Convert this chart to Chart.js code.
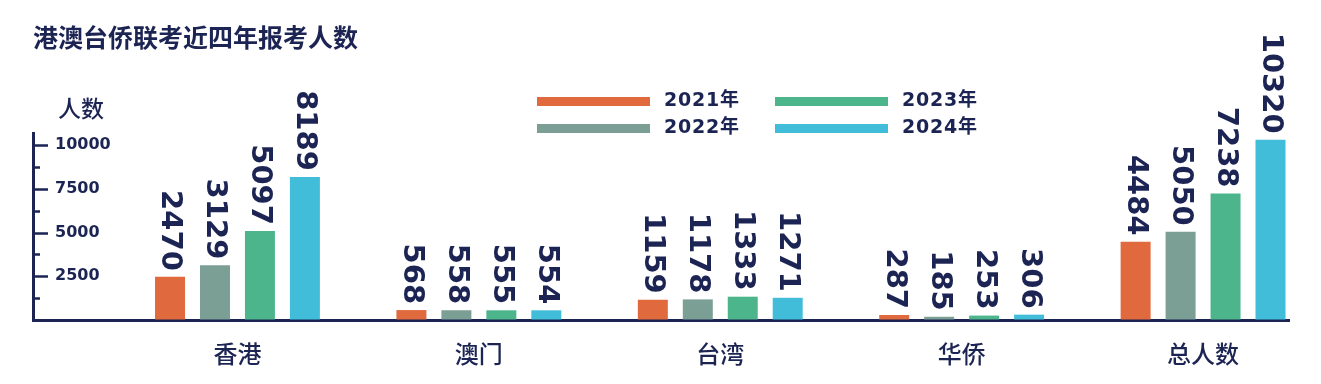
<!DOCTYPE html>
<html lang="zh">
<head>
<meta charset="utf-8">
<title>港澳台侨联考近四年报考人数</title>
<script src="https://cdn.jsdelivr.net/npm/chart.js@4.4.1/dist/chart.umd.min.js"></script>
<style>
  html, body { margin: 0; padding: 0; background: #fff; }
  #wrap { width: 1321px; height: 384px; }
</style>
</head>
<body>
<div id="wrap"><canvas id="chart"></canvas></div>
<script>
const categories = ['香港', '澳门', '台湾', '华侨', '总人数'];
const years = ['2021年', '2022年', '2023年', '2024年'];
const values2021 = [2470, 568, 1159, 287, 4484];
const values2022 = [3129, 558, 1178, 185, 5050];
const values2023 = [5097, 555, 1333, 253, 7238];
const values2024 = [8189, 554, 1271, 306, 10320];
const yTicks = [0, 2500, 5000, 7500, 10000];

const navy = '#1c2453';
const colors = ['#e0693d', '#7b9e95', '#4db58c', '#42bdd9'];
const cjk = '"Noto Sans CJK SC", sans-serif';

const series = [values2021, values2022, values2023, values2024];

// rotated value above each bar
const valueLabels = {
    id: 'valueLabels',
    afterDatasetsDraw(chart) {
        const ctx = chart.ctx;
        ctx.save();
        ctx.fillStyle = navy;
        ctx.font = 'bold 29px "DejaVu Sans"';
        ctx.textAlign = 'right';
        ctx.textBaseline = 'middle';
        chart.data.datasets.forEach((ds, i) => {
            chart.getDatasetMeta(i).data.forEach((bar, j) => {
                ctx.save();
                ctx.translate(bar.x, bar.y - 6);
                ctx.rotate(Math.PI / 2);
                ctx.fillText(String(ds.data[j].y), 0, 0);
                ctx.restore();
            });
        });
        ctx.restore();
    }
};

// axis tick marks, unit text and the 2x2 legend
const axisDecor = {
    id: 'axisDecor',
    afterDraw(chart) {
        const {ctx, chartArea, scales} = chart;
        const y = scales.y;
        ctx.save();
        ctx.strokeStyle = navy;
        ctx.lineWidth = 2.5;
        for (let v = 1250; v <= y.max; v += 1250) {
            const py = Math.round(y.getPixelForValue(v)) + 0.5;
            const len = v % 2500 === 0 ? 15 : 7;
            ctx.beginPath();
            ctx.moveTo(chartArea.left, py);
            ctx.lineTo(chartArea.left + len, py);
            ctx.stroke();
        }

        ctx.fillStyle = navy;
        ctx.textAlign = 'left';
        ctx.textBaseline = 'middle';
        ctx.font = '500 23px ' + cjk;
        ctx.fillText('人数', chartArea.left + 25, chartArea.top - 25);

        ctx.font = 'bold 19px "DejaVu Sans", ' + cjk;
        ctx.letterSpacing = '0.8px';
        chart.data.datasets.forEach((ds, i) => {
            const lx = 537 + Math.floor(i / 2) * 238;
            const ly = 101.5 + (i % 2) * 27;
            ctx.fillStyle = ds.backgroundColor;
            ctx.fillRect(lx, ly - 4.5, 113, 9);
            ctx.fillStyle = navy;
            ctx.fillText(ds.label, lx + 127, ly);
        });
        ctx.restore();
    }
};

const ctx = document.getElementById('chart').getContext('2d');
new Chart(ctx, {
    type: 'bar',
    data: {
        datasets: series.map((vals, i) => ({
            label: years[i],
            data: vals.map((v, k) => ({ x: k, y: v })),
            backgroundColor: colors[i],
            borderWidth: 0
        }))
    },
    options: {
        responsive: true,
        maintainAspectRatio: false,
        animation: false,
        layout: { padding: { left: 33, right: 32, top: 0, bottom: 0 } },
        datasets: { bar: { categoryPercentage: 0.745, barPercentage: 0.667 } },
        plugins: {
            legend: { display: false },
            tooltip: { enabled: false },
            title: {
                display: true,
                text: '港澳台侨联考近四年报考人数',
                align: 'start',
                color: navy,
                font: { family: cjk, size: 25, weight: 'bold', lineHeight: 1.2 },
                padding: { top: 22, bottom: 81 }
            }
        },
        scales: {
            x: {
                type: 'linear',
                min: -0.847,
                max: 4.356,
                offset: false,
                z: 1,
                afterBuildTicks: s => { s.ticks = categories.map((c, i) => ({ value: i })); },
                afterFit: s => { s.height = 64; },
                grid: { drawOnChartArea: false, drawTicks: false },
                border: { color: navy, width: 3 },
                ticks: {
                    autoSkip: false,
                    maxRotation: 0,
                    padding: 19,
                    color: navy,
                    font: { family: cjk, size: 24, weight: 500, lineHeight: 1.2 },
                    callback: v => categories[v]
                }
            },
            y: {
                min: 0,
                max: 10700,
                afterBuildTicks: s => { s.ticks = yTicks.map(v => ({ value: v })); },
                afterFit: s => { s.width = 0; },
                grid: { drawOnChartArea: false, drawTicks: false },
                border: { color: navy, width: 3 },
                ticks: {
                    mirror: true,
                    padding: 22,
                    color: navy,
                    font: { family: '"DejaVu Sans"', size: 16, weight: 'bold' },
                    callback: v => v === 0 ? '' : String(v)
                }
            }
        }
    },
    plugins: [valueLabels, axisDecor]
});
</script>
</body>
</html>
